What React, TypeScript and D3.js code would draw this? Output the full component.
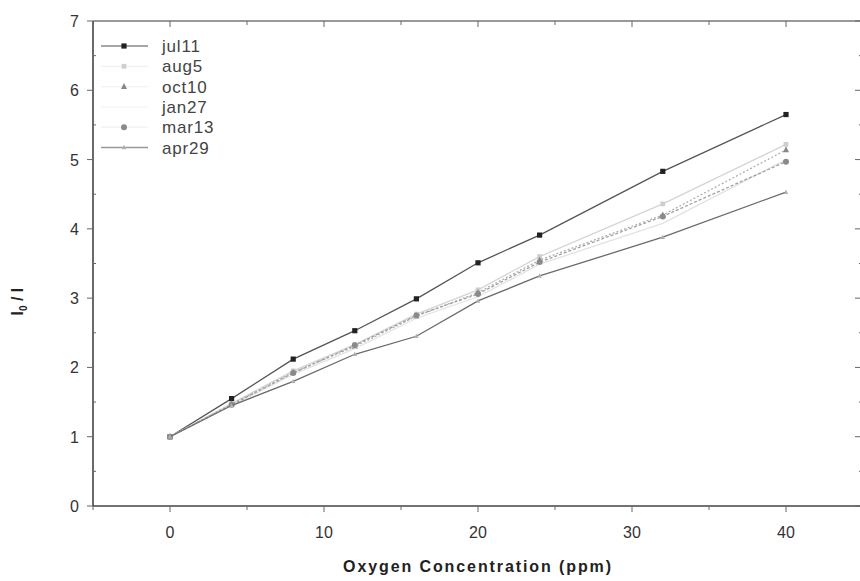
import React from "react";
import * as d3 from "d3";

const xValues = [0, 4, 8, 12, 16, 20, 24, 32, 40];
const seriesNames = ["jul11", "aug5", "oct10", "jan27", "mar13", "apr29"];
const jul11 = [1, 1.55, 2.12, 2.53, 2.99, 3.51, 3.91, 4.83, 5.65];
const aug5 = [1, 1.48, 1.95, 2.33, 2.77, 3.12, 3.6, 4.36, 5.22];
const oct10 = [1, 1.47, 1.93, 2.3, 2.74, 3.08, 3.55, 4.2, 5.14];
const jan27 = [1, 1.45, 1.9, 2.27, 2.71, 3.02, 3.49, 4.08, 5.0];
const mar13 = [1, 1.46, 1.92, 2.32, 2.75, 3.06, 3.52, 4.18, 4.97];
const apr29 = [1, 1.45, 1.8, 2.19, 2.45, 2.96, 3.32, 3.88, 4.53];
const xTicks = [0, 10, 20, 30, 40];
const yTicks = [0, 1, 2, 3, 4, 5, 6, 7];

const styles = [
  { stroke: "#555", legend: "#888", dash: "", marker: "square", fill: "#222", ms: 2.6 },
  { stroke: "#d4d4d4", legend: "#f0f0f0", dash: "", marker: "square", fill: "#cfcfcf", ms: 2.4 },
  { stroke: "#b0b0b0", legend: "#f2f2f2", dash: "2,2", marker: "triangle", fill: "#888", ms: 3 },
  { stroke: "#e2e2e2", legend: "#f6f6f6", dash: "", marker: "none", fill: "#e0e0e0", ms: 2.4 },
  { stroke: "#a0a0a0", legend: "#f0f0f0", dash: "3,2", marker: "circle", fill: "#8a8a8a", ms: 3 },
  { stroke: "#6a6a6a", legend: "#999", dash: "", marker: "triangle", fill: "#b0b0b0", ms: 2.2 },
];

const allSeries = [jul11, aug5, oct10, jan27, mar13, apr29];

function Marker({ type, x, y, fill, s }: any) {
  if (type === "square")
    return <rect x={x - s} y={y - s} width={2 * s} height={2 * s} fill={fill} />;
  if (type === "circle") return <circle cx={x} cy={y} r={s} fill={fill} />;
  if (type === "triangle")
    return (
      <path
        d={`M${x},${y - s * 1.2}L${x + s},${y + s * 0.8}L${x - s},${y + s * 0.8}Z`}
        fill={fill}
      />
    );
  return null;
}

export default function App() {
  const W = 860;
  const H = 581;
  const left = 93;
  const top = 21;
  const bottom = 506;
  const x = d3.scaleLinear().domain([-5, 45]).range([left, left + 50 * 15.4]);
  const y = d3.scaleLinear().domain([0, 7]).range([bottom, top]);
  const right = x(45);
  const line = d3
    .line<number>()
    .x((_, i) => x(xValues[i]))
    .y((d) => y(d));
  const font = "'Liberation Sans', Arial, sans-serif";
  const minorX = d3.range(-5, 46, 5);
  const minorY = d3.range(0, 7.01, 0.5);

  return (
    <svg
      width={W}
      height={H}
      style={{ position: "absolute", left: 0, top: 0, background: "#fff" }}
      fontFamily={font}
    >
      {/* frame */}
      <line x1={left} x2={right} y1={top} y2={top} stroke="#777" strokeWidth={1.4} />
      <line x1={left} x2={right} y1={bottom} y2={bottom} stroke="#444" strokeWidth={1.6} />
      <line x1={left} x2={left} y1={top} y2={bottom} stroke="#444" strokeWidth={1.6} />
      <line x1={right} x2={right} y1={top} y2={bottom} stroke="#444" strokeWidth={1.6} />

      {/* x ticks */}
      {minorX.map((v) => {
        const major = v % 10 === 0;
        return (
          <g key={"x" + v}>
            <line x1={x(v)} x2={x(v)} y1={bottom} y2={bottom + (major ? 6 : 4)} stroke="#666" />
            <line x1={x(v)} x2={x(v)} y1={top} y2={top + (major ? 6 : 4)} stroke="#666" />
          </g>
        );
      })}
      {xTicks.map((v) => (
        <text key={"xl" + v} x={x(v)} y={538} textAnchor="middle" fontSize={16} fill="#333">
          {v}
        </text>
      ))}

      {/* y ticks */}
      {minorY.map((v) => {
        const major = Math.abs(v - Math.round(v)) < 1e-6;
        return (
          <g key={"y" + v}>
            <line x1={left - (major ? 6 : 0)} x2={left + (major ? 0 : 3)} y1={y(v)} y2={y(v)} stroke="#666" />
            <line x1={right} x2={right - (major ? 8 : 4)} y1={y(v)} y2={y(v)} stroke="#666" />
          </g>
        );
      })}
      {yTicks.map((v) => (
        <text key={"yl" + v} x={79} y={y(v) + 6} textAnchor="end" fontSize={16} fill="#333">
          {v}
        </text>
      ))}

      {/* axis titles */}
      <text
        x={x(20)}
        y={572}
        textAnchor="middle"
        fontSize={16}
        fontWeight="bold"
        letterSpacing={1.9}
        fill="#222"
      >
        Oxygen Concentration (ppm)
      </text>
      <text
        transform={`translate(23,${y(2.95)}) rotate(-90)`}
        textAnchor="middle"
        fontSize={16}
        fontWeight="bold"
        fill="#222"
      >
        I<tspan fontSize={10} dy={4}>0</tspan>
        <tspan dy={-4}> / I</tspan>
      </text>

      {/* series */}
      {allSeries.map((vals, si) => {
        const st = styles[si];
        return (
          <g key={"s" + si}>
            <path
              d={line(vals) || ""}
              fill="none"
              stroke={st.stroke}
              strokeWidth={1.3}
              strokeDasharray={st.dash}
            />
            {vals.map((v, i) => (
              <Marker key={i} type={st.marker} x={x(xValues[i])} y={y(v)} fill={st.fill} s={st.ms} />
            ))}
          </g>
        );
      })}

      {/* legend */}
      {seriesNames.map((name, i) => {
        const st = styles[i];
        const ly = 46 + i * 20.3;
        return (
          <g key={"lg" + i}>
            <line x1={101} x2={148} y1={ly} y2={ly} stroke={st.legend} strokeWidth={1.3} />
            <Marker type={st.marker} x={124} y={ly} fill={st.fill} s={st.ms} />
            <text x={162} y={ly + 6} fontSize={17} letterSpacing={0.8} fill="#444">
              {name}
            </text>
          </g>
        );
      })}
    </svg>
  );
}
